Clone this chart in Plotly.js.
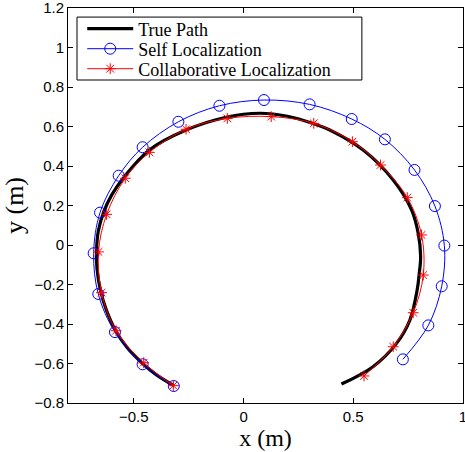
<!DOCTYPE html>
<html>
<head>
<meta charset="utf-8">
<script src="https://cdn.plot.ly/plotly-3.0.1.min.js"></script>
<style>html,body{margin:0;padding:0;background:#fff;}#chart{width:465px;height:452px;}</style>
</head>
<body>
<div id="chart"></div>
<script>
// True path
const trueX = [-0.318,-0.40,-0.46,-0.53,-0.585,-0.625,-0.652,-0.668,-0.670,-0.662,-0.638,-0.60,-0.543,-0.429,-0.262,-0.079,0.073,0.20,0.32,0.393,0.545,0.682,0.766,0.796,0.807,0.80,0.791,0.758,0.697,0.590,0.446];
const trueY = [-0.712,-0.655,-0.600,-0.52,-0.43,-0.33,-0.23,-0.12,-0.03,0.07,0.165,0.255,0.346,0.481,0.582,0.647,0.667,0.652,0.614,0.582,0.481,0.329,0.177,0.059,-0.059,-0.15,-0.228,-0.380,-0.498,-0.616,-0.704];
// Self localization
const selfX = [-0.318,-0.460,-0.586,-0.662,-0.683,-0.654,-0.569,-0.460,-0.297,-0.110,0.093,0.301,0.493,0.644,0.779,0.872,0.915,0.903,0.842,0.726];
const selfY = [-0.714,-0.604,-0.441,-0.248,-0.042,0.164,0.351,0.495,0.624,0.705,0.734,0.712,0.638,0.535,0.380,0.197,-0.003,-0.209,-0.407,-0.579];
// Collaborative localization
const collX = [-0.320,-0.455,-0.581,-0.647,-0.661,-0.624,-0.539,-0.429,-0.262,-0.074,0.126,0.320,0.496,0.624,0.746,0.811,0.819,0.773,0.682,0.549];
const collY = [-0.712,-0.596,-0.434,-0.241,-0.035,0.155,0.338,0.469,0.586,0.641,0.650,0.616,0.523,0.405,0.240,0.051,-0.152,-0.343,-0.515,-0.663];
const names = ['True Path','Self Localization','Collaborative Localization'];
const xTicks = [-0.5,0,0.5,1];
const yTicks = [-0.8,-0.6,-0.4,-0.2,0,0.2,0.4,0.6,0.8,1,1.2];

const fmt = v => v<0 ? '\u2212'+String(-v) : String(v);
const traces = [
  {x:trueX,y:trueY,name:names[0],legend:'legend',mode:'lines',line:{color:'#000',width:3.2,shape:'spline'}},
  {x:selfX,y:selfY,name:names[1],legend:'legend2',mode:'lines+markers',line:{color:'#0000ff',width:1,shape:'spline'},
   marker:{symbol:'circle-open',size:11,color:'#0000ff',line:{width:1}}},
  {x:collX,y:collY,name:names[2],legend:'legend3',mode:'lines+markers',line:{color:'#ff0000',width:1,shape:'spline'},
   marker:{symbol:'asterisk-open',size:9,color:'#ff0000',line:{width:1,color:'#ff0000'}}}
];
const tickFont = {family:'Liberation Sans, Arial, sans-serif',size:15,color:'#000'};
const xTitleFont = {family:'Liberation Serif, Times New Roman, serif',size:24,color:'#000'};
const yTitleFont = {family:'Liberation Serif, Times New Roman, serif',size:26,color:'#000'};
const legFont = {family:'Liberation Serif, Times New Roman, serif',size:18,color:'#000'};
const axisCommon = {showgrid:false,zeroline:false,showline:true,linecolor:'#000',linewidth:1,mirror:'ticks',
  ticks:'inside',ticklen:5,tickcolor:'#000',tickfont:tickFont,ticklabeloverflow:'allow'};
const legBase = {x:0.036,xanchor:'left',yanchor:'middle',borderwidth:0,bgcolor:'rgba(0,0,0,0)',font:legFont,itemwidth:46};
const layout = {
  width:465,height:452,margin:{l:68,r:2,t:8,b:49},
  paper_bgcolor:'#fff',plot_bgcolor:'#fff',
  xaxis:Object.assign({},axisCommon,{range:[-0.8,1],tickvals:xTicks,ticktext:xTicks.map(fmt),
    title:{text:'x (m)',font:xTitleFont,standoff:2}}),
  yaxis:Object.assign({},axisCommon,{range:[-0.8,1.2],tickvals:yTicks,ticktext:yTicks.map(fmt),
    title:{text:'y (m)',font:yTitleFont,standoff:6}}),
  showlegend:true,
  legend:Object.assign({},legBase,{y:0.9468}),
  legend2:Object.assign({},legBase,{y:0.8962}),
  legend3:Object.assign({},legBase,{y:0.8456}),
  shapes:[{type:'rect',xref:'paper',yref:'paper',x0:0.0228,x1:0.744,y0:0.8177,y1:0.977,
    line:{color:'#000',width:1},fillcolor:'#fff',layer:'above'}]
};
Plotly.newPlot('chart',traces,layout,{displayModeBar:false,staticPlot:true});
</script>
</body>
</html>
